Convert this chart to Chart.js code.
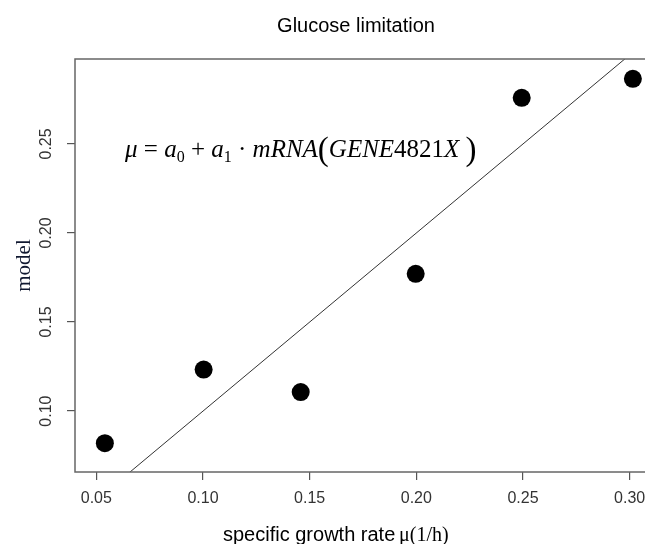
<!DOCTYPE html>
<html lang="en">
<head>
    <meta charset="UTF-8">
    <title>Glucose limitation</title>
    <style>
        body {
            margin: 0;
            padding: 0;
            background-color: #fff;
            overflow: hidden;
        }

        #chart-box {
            width: 645px;
            height: 544px;
            overflow: hidden;
        }
    </style>
</head>
<body>
    <div id="chart-box">
        <canvas id="chart" width="660" height="544"></canvas>
    </div>

    <script src="https://cdn.jsdelivr.net/npm/chart.js"></script>
    <script>
        // measured growth rate vs. model prediction
        const growthRate = [0.054, 0.1003, 0.1458, 0.1997, 0.2494, 0.3015];
        const modelValue = [0.082, 0.1233, 0.1107, 0.1771, 0.2759, 0.2866];

        // y = x reference line
        const lineX = [0.04, 0.31];
        const lineY = [0.04, 0.31];

        const xTicks = [0.05, 0.10, 0.15, 0.20, 0.25, 0.30];
        const yTicks = [0.10, 0.15, 0.20, 0.25];

        const sans = "'Liberation Sans', Arial, sans-serif";
        const serif = "'Liberation Serif', 'Times New Roman', serif";

        // draws the frame, title, y tick labels, axis titles and the formula
        const extras = {
            id: 'extras',
            afterDraw(chart) {
                const ctx = chart.ctx;
                const area = chart.chartArea;
                const yScale = chart.scales.y;
                ctx.save();

                ctx.strokeStyle = '#666';
                ctx.lineWidth = 1.5;
                ctx.strokeRect(area.left, area.top, area.right - area.left, area.bottom - area.top);

                ctx.fillStyle = '#000';
                ctx.font = '20px ' + sans;
                ctx.textAlign = 'center';
                ctx.textBaseline = 'middle';
                ctx.fillText('Glucose limitation', 356, 26);

                // y tick labels, rotated like R does
                ctx.fillStyle = '#333';
                ctx.font = '16px ' + sans;
                yTicks.forEach(v => {
                    const py = yScale.getPixelForValue(v);
                    ctx.save();
                    ctx.translate(47, py);
                    ctx.rotate(-Math.PI / 2);
                    ctx.fillText(v.toFixed(2), 0, 0);
                    ctx.restore();
                });

                // y title
                ctx.save();
                ctx.fillStyle = '#101830';
                ctx.font = '21px ' + serif;
                ctx.translate(24, (area.top + area.bottom) / 2);
                ctx.rotate(-Math.PI / 2);
                ctx.fillText('model', 0, 0);
                ctx.restore();

                // x title: sans part + serif part
                ctx.textAlign = 'left';
                ctx.textBaseline = 'alphabetic';
                ctx.fillStyle = '#000';
                ctx.font = '20px ' + sans;
                ctx.fillText('specific growth rate', 223, 541);
                ctx.font = '20px ' + serif;
                ctx.fillText('\u03bc(1/h)', 399, 541);

                // formula
                drawFormula(ctx, 125, 157);
                ctx.restore();
            }
        };

        function drawFormula(ctx, x, base) {
            const it = 'italic 25px ' + serif;
            const up = '25px ' + serif;
            const sub = '16px ' + serif;
            const big = '33px ' + serif;
            const parts = [
                ['\u03bc', it, 0], [' = ', up, 0], ['a', it, 0], ['0', sub, 5],
                [' + ', up, 0], ['a', it, 0], ['1', sub, 5], [' \u00b7 ', up, 0],
                ['mRNA', it, 0], ['(', big, 3], ['GENE', it, 0], ['4821', up, 0],
                ['X', it, 0], [' ', up, 0], [')', big, 3]
            ];
            ctx.fillStyle = '#000';
            ctx.textAlign = 'left';
            ctx.textBaseline = 'alphabetic';
            parts.forEach(p => {
                ctx.font = p[1];
                ctx.fillText(p[0], x, base + p[2]);
                x += ctx.measureText(p[0]).width;
            });
        }

        new Chart(document.getElementById('chart'), {
            type: 'scatter',
            data: {
                datasets: [{
                    type: 'line',
                    data: lineX.map((v, i) => ({ x: v, y: lineY[i] })),
                    borderColor: '#333',
                    borderWidth: 1,
                    pointRadius: 0,
                    fill: false
                }, {
                    data: growthRate.map((v, i) => ({ x: v, y: modelValue[i] })),
                    backgroundColor: '#000',
                    borderWidth: 0,
                    pointRadius: 9
                }]
            },
            options: {
                responsive: false,
                animation: false,
                layout: {
                    padding: { top: 59, left: 0, right: 0, bottom: 0 }
                },
                plugins: {
                    legend: { display: false },
                    tooltip: { enabled: false }
                },
                scales: {
                    x: {
                        type: 'linear',
                        min: 0.04,
                        max: 0.31,
                        grid: { drawOnChartArea: false, drawTicks: true, tickLength: 8, color: '#555', lineWidth: 1.2 },
                        border: { display: false },
                        ticks: {
                            color: '#333',
                            font: { family: sans, size: 16 },
                            padding: 9,
                            maxRotation: 0,
                            callback: v => v.toFixed(2)
                        },
                        afterBuildTicks: s => { s.ticks = xTicks.map(v => ({ value: v })); },
                        afterFit: s => { s.height = 72; s.paddingLeft = 0; s.paddingRight = 0; }
                    },
                    y: {
                        type: 'linear',
                        min: 0.0658,
                        max: 0.2977,
                        grid: { drawOnChartArea: false, drawTicks: true, tickLength: 8, color: '#555', lineWidth: 1.2 },
                        border: { display: false },
                        ticks: { display: false },
                        afterBuildTicks: s => { s.ticks = yTicks.map(v => ({ value: v })); },
                        afterFit: s => { s.width = 75; s.paddingTop = 0; s.paddingBottom = 0; }
                    }
                }
            },
            plugins: [extras]
        });
    </script>
</body>
</html>
